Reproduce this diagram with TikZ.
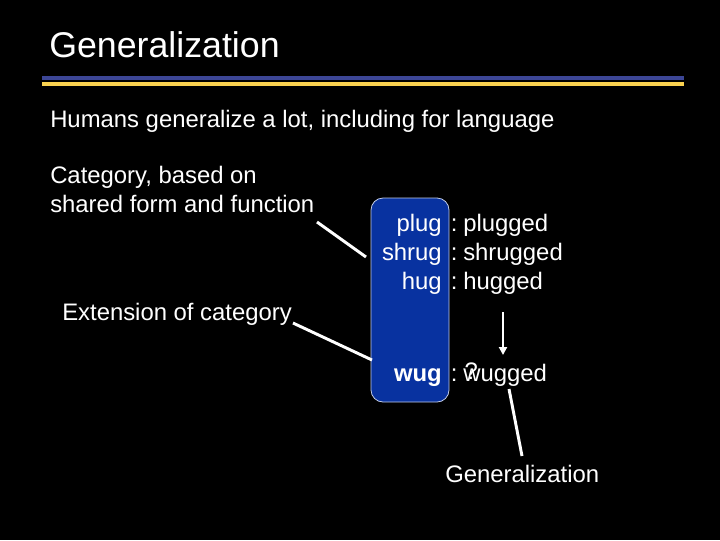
\documentclass[tikz,border=0pt]{standalone}
\usepackage{fontspec}
\setmainfont{Liberation Sans}
\usetikzlibrary{arrows.meta}
\definecolor{boxblue}{RGB}{8,50,160}
\definecolor{rulblue}{RGB}{60,70,150}
\definecolor{rulyellow}{RGB}{250,210,80}
\begin{document}
\begin{tikzpicture}[x=0.75pt,y=-0.75pt,
  txt/.style={text=white,inner sep=0pt,font=\fontsize{17.9}{21}\selectfont},
  conn/.style={draw=white,line width=2.2pt},
  ttl/.style={text=white,inner sep=0pt,font=\fontsize{26.8}{32}\selectfont}]
\fill[black] (0,0) rectangle (720,540);
\useasboundingbox (0,0) rectangle (720,540);
\node[ttl,anchor=base west] (title) at (49,57) {Generalization};
\fill[rulblue] (42,75.5) rectangle (684,79.5);
\fill[rulyellow] (42,82) rectangle (684,86);
\node[txt,anchor=base west] (sub) at (50,127) {Humans generalize a lot, including for language};
\node[txt,anchor=base west] (cat1) at (50,183) {Category, based on};
\node[txt,anchor=base west] (cat2) at (50,212) {shared form and function};
\node[txt,anchor=base west] (ext) at (62,320) {Extension of category};
\draw[fill=boxblue,draw=white!75!boxblue,line width=0.6pt,rounded corners=9pt] (371,198) rectangle (449,402);
\coordinate (boxA) at (366,257);
\coordinate (boxB) at (372,360);
\node[txt,anchor=base east] (plug) at (442,231) {plug};
\node[txt,anchor=base east] (shrug) at (442,260) {shrug};
\node[txt,anchor=base east] (hug) at (442,289) {hug};
\node[txt,anchor=base east] (wug) at (442,381) {\bfseries wug};
\foreach \y/\n in {231/c1,260/c2,289/c3,381/c4}
  \node[txt,anchor=base west] (\n) at (450.5,\y) {:};
\node[txt,anchor=base west] (plugged) at (463,231) {plugged};
\node[txt,anchor=base west] (shrugged) at (463,260) {shrugged};
\node[txt,anchor=base west] (hugged) at (463,289) {hugged};
\node[txt,anchor=base west] (wugged) at (463,381) {\rlap{\hspace{1pt}\raisebox{1pt}{?}}wugged};
\node[txt,anchor=base west] (gen) at (445,482) {Generalization};
\coordinate (c1s) at (317,222);
\coordinate (c2s) at (293,323);
\draw[conn] (c1s) -- (boxA);
\draw[conn] (c2s) -- (boxB);
\coordinate (arS) at (503,312);
\coordinate (arE) at (503,355);
\draw[conn,-{Triangle[length=6pt,width=6pt]}] (arS) -- (arE);
\coordinate (gS) at (509,389);
\coordinate (gE) at (522,456);
\draw[conn] (gS) -- (gE);
\end{tikzpicture}
\end{document}
